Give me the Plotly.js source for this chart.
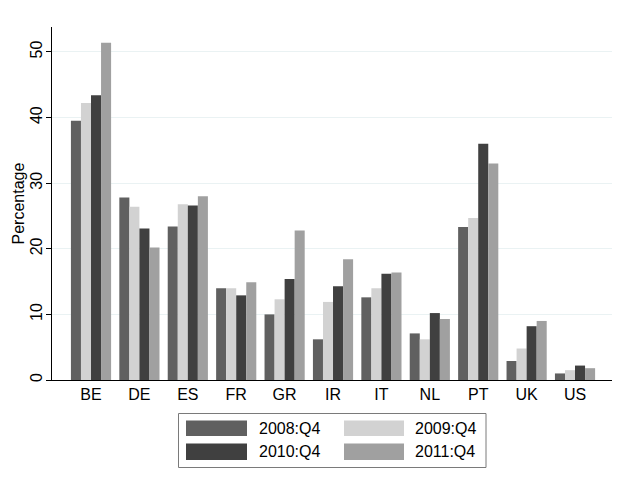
<!DOCTYPE html>
<html>
<head>
<meta charset="utf-8">
<script src="https://cdn.plot.ly/plotly-3.0.1.min.js"></script>
<style>html,body{margin:0;padding:0;background:#fff;}#chart{width:617px;height:489px;}</style>
</head>
<body>
<div id="chart"></div>
<script>
const countries = ["BE","DE","ES","FR","GR","IR","IT","NL","PT","UK","US"];
const seriesNames = ["2008:Q4","2009:Q4","2010:Q4","2011:Q4"];
const q2008 = [39.5, 27.8, 23.4, 14.0, 10.0, 6.2, 12.6, 7.1, 23.3, 2.9, 1.0];
const q2009 = [42.2, 26.4, 26.8, 14.0, 12.3, 11.9, 14.0, 6.2, 24.7, 4.8, 1.5];
const q2010 = [43.4, 23.1, 26.6, 12.9, 15.4, 14.3, 16.2, 10.2, 36.0, 8.2, 2.2];
const q2011 = [51.4, 20.2, 28.0, 14.9, 22.8, 18.4, 16.4, 9.3, 33.0, 9.0, 1.8];
const yTicks = [0, 10, 20, 30, 40, 50];
const yTitle = "Percentage";

const colors = ["#606060", "#d2d2d2", "#404040", "#a0a0a0"];
const values = [q2008, q2009, q2010, q2011];
const FONT = "Liberation Sans, Arial, sans-serif";

const traces = values.map((v, i) => ({
  type: "bar",
  name: seriesNames[i],
  x: countries,
  y: v,
  marker: {color: colors[i], line: {width: 0}},
  showlegend: false,
  hoverinfo: "x+y+name"
}));

// plot area in pixels
const L = 52, R = 612, T = 27, B = 380;
const px = x => (x - L) / (R - L);
const py = y => (B - y) / (B - T);

const shapes = [];
const annotations = [];
// y axis title
annotations.push({xref: "paper", yref: "paper", x: px(17.5), y: py(204),
  xanchor: "center", yanchor: "middle", textangle: -90, showarrow: false,
  text: yTitle, font: {family: FONT, size: 16, color: "#000"}});
// legend box
shapes.push({type: "rect", xref: "paper", yref: "paper",
  x0: px(178.5), x1: px(486), y0: py(413.5), y1: py(467.5),
  line: {color: "#7a7a7a", width: 1}, fillcolor: "rgba(0,0,0,0)"});
const colSw = [[186, 247], [344, 404]];
const colTx = [257, 413];
const rowY = [[420.5, 436], [443.5, 460]];
const order = [[0, 0, 0], [1, 0, 1], [2, 1, 0], [3, 1, 1]]; // series, row, col
order.forEach(([s, r, c]) => {
  shapes.push({type: "rect", xref: "paper", yref: "paper",
    x0: px(colSw[c][0]), x1: px(colSw[c][1]),
    y0: py(rowY[r][0]), y1: py(rowY[r][1]),
    line: {width: 0}, fillcolor: colors[s]});
  annotations.push({xref: "paper", yref: "paper",
    x: px(colTx[c]), y: py((rowY[r][0] + rowY[r][1]) / 2),
    xanchor: "left", yanchor: "middle", showarrow: false,
    text: seriesNames[s], font: {family: FONT, size: 16, color: "#000"}});
});

const layout = {
  width: 617, height: 489,
  margin: {l: L, r: 617 - R, t: T, b: 489 - B},
  paper_bgcolor: "#fff", plot_bgcolor: "#fff",
  font: {family: FONT, color: "#000"},
  barmode: "group",
  bargap: 0.17,
  bargroupgap: 0,
  xaxis: {
    type: "category",
    range: [-0.806, 10.764],
    showline: true, linecolor: "#000", linewidth: 1,
    ticks: "", showgrid: false, zeroline: false,
    tickfont: {family: FONT, size: 16, color: "#000"},
    fixedrange: true
  },
  yaxis: {
    range: [0, 53.8],
    tickvals: yTicks,
    ticktext: yTicks.map(String),
    tickangle: -90,
    ticks: "outside", ticklen: 5, tickcolor: "#000", tickwidth: 1,
    ticklabelstandoff: -2,
    showline: true, linecolor: "#000", linewidth: 1,
    showgrid: true, gridcolor: "#eaf2f3", gridwidth: 1,
    zeroline: false,
    tickfont: {family: FONT, size: 16, color: "#000"},
    fixedrange: true
  },
  shapes: shapes,
  annotations: annotations,
  showlegend: false
};

Plotly.newPlot("chart", traces, layout, {displayModeBar: false, staticPlot: true});
</script>
</body>
</html>
